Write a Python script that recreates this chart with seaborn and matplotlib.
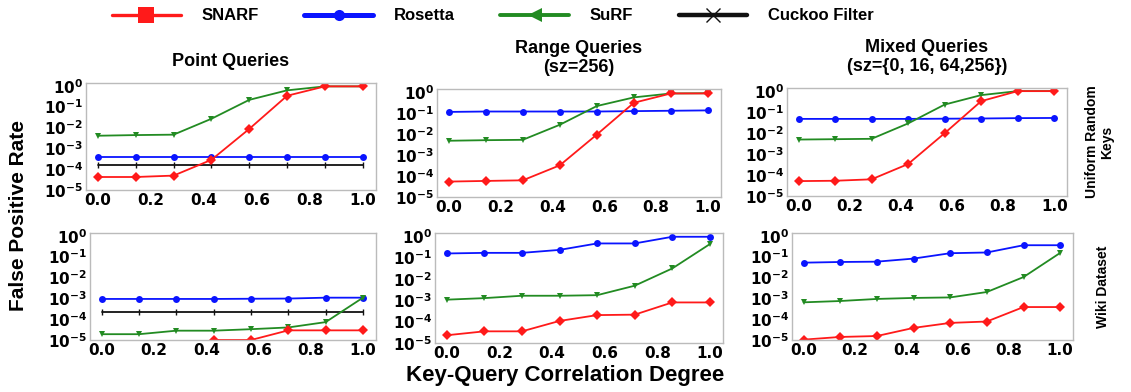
import numpy as np
import pandas as pd
import matplotlib
matplotlib.use("Agg")
import matplotlib.pyplot as plt
import seaborn as sns
from matplotlib.lines import Line2D
from matplotlib.ticker import FixedLocator, NullLocator

sns.set_theme(style="white")
plt.rcParams['font.family'] = ['DejaVu Sans']
plt.rcParams['text.color'] = 'black'
plt.rcParams['xtick.color'] = 'black'
plt.rcParams['ytick.color'] = 'black'

x_vals = [0.0, 1/7, 2/7, 3/7, 4/7, 5/7, 6/7, 1.0]

# Uniform random keys
pt_uni_snarf = [4.2e-5, 4.2e-5, 4.9e-5, 2.8e-4, 8.5e-3, 0.33, 0.93, 0.93]
pt_uni_rosetta = [4e-4] * 8
pt_uni_surf = [4e-3, 4.3e-3, 4.5e-3, 2.6e-2, 0.21, 0.6, 0.93, 0.93]
pt_uni_cuckoo = [1.65e-4] * 8

rg_uni_snarf = [5.4e-5, 5.8e-5, 6.2e-5, 3.2e-4, 9.3e-3, 0.30, 0.83, 0.83]
rg_uni_rosetta = [0.11, 0.115, 0.115, 0.115, 0.115, 0.12, 0.125, 0.13]
rg_uni_surf = [4.7e-3, 5.0e-3, 5.2e-3, 2.7e-2, 0.21, 0.54, 0.83, 0.85]

mx_uni_snarf = [5.1e-5, 5.3e-5, 6.2e-5, 3.3e-4, 9.6e-3, 0.32, 0.96, 0.96]
mx_uni_rosetta = [0.046, 0.046, 0.046, 0.046, 0.047, 0.048, 0.05, 0.051]
mx_uni_surf = [4.8e-3, 5.0e-3, 5.2e-3, 2.8e-2, 0.22, 0.62, 0.96, 0.96]

# Wiki dataset
pt_wiki_snarf = [1e-6, 1e-6, 1e-6, 1e-5, 1e-5, 2.9e-5, 2.9e-5, 2.9e-5]
pt_wiki_rosetta = [9.3e-4, 9.3e-4, 9.3e-4, 9.3e-4, 9.5e-4, 9.7e-4, 1.07e-3, 1.07e-3]
pt_wiki_surf = [1.9e-5, 1.9e-5, 2.8e-5, 2.8e-5, 3.3e-5, 4e-5, 7.2e-5, 1.07e-3]
pt_wiki_cuckoo = [2.1e-4] * 8

rg_wiki_snarf = [2.3e-5, 3.5e-5, 3.5e-5, 1.07e-4, 2.0e-4, 2.1e-4, 7.8e-4, 7.8e-4]
rg_wiki_rosetta = [0.15, 0.16, 0.16, 0.22, 0.44, 0.44, 0.9, 0.9]
rg_wiki_surf = [1.05e-3, 1.24e-3, 1.6e-3, 1.6e-3, 1.7e-3, 4.7e-3, 3.0e-2, 0.41]

mx_wiki_snarf = [1.04e-5, 1.4e-5, 1.55e-5, 3.8e-5, 6.6e-5, 7.7e-5, 3.8e-4, 3.8e-4]
mx_wiki_rosetta = [0.051, 0.055, 0.057, 0.08, 0.145, 0.157, 0.35, 0.35]
mx_wiki_surf = [6.4e-4, 7.4e-4, 9.3e-4, 1.04e-3, 1.1e-3, 2.0e-3, 1.04e-2, 0.15]

col_titles = ["Point Queries", "Range Queries\n(sz=256)", "Mixed Queries\n(sz={0, 16, 64,256})"]
row_labels = ["Uniform Random\nKeys", "Wiki Dataset"]
x_ticks = [0.0, 0.2, 0.4, 0.6, 0.8, 1.0]
y_ticks = [1e-5, 1e-4, 1e-3, 1e-2, 1e-1, 1e0]

RED = "#ff1a1a"
BLUE = "#0a14ff"
GREEN = "#228b22"
BLACK = "#111111"

panels = [
    [dict(SNARF=pt_uni_snarf, Rosetta=pt_uni_rosetta, SuRF=pt_uni_surf, Cuckoo=pt_uni_cuckoo),
     dict(SNARF=rg_uni_snarf, Rosetta=rg_uni_rosetta, SuRF=rg_uni_surf),
     dict(SNARF=mx_uni_snarf, Rosetta=mx_uni_rosetta, SuRF=mx_uni_surf)],
    [dict(SNARF=pt_wiki_snarf, Rosetta=pt_wiki_rosetta, SuRF=pt_wiki_surf, Cuckoo=pt_wiki_cuckoo),
     dict(SNARF=rg_wiki_snarf, Rosetta=rg_wiki_rosetta, SuRF=rg_wiki_surf),
     dict(SNARF=mx_wiki_snarf, Rosetta=mx_wiki_rosetta, SuRF=mx_wiki_surf)],
]

styles = {
    "Cuckoo": dict(color=BLACK, marker="|", markersize=5, mew=1.0),
    "Rosetta": dict(color=BLUE, marker="o", markersize=5, mew=0),
    "SuRF": dict(color=GREEN, marker="v", markersize=5, mew=0),
    "SNARF": dict(color=RED, marker="D", markersize=5.5, mew=0),
}
order = ["Cuckoo", "Rosetta", "SuRF", "SNARF"]

W, H = 1131, 392
fig = plt.figure(figsize=(W / 100, H / 100), dpi=100)

boxes = [
    [(86, 376, 83, 190), (437, 721, 89, 197), (787, 1067, 88, 196)],
    [(90, 376, 233, 340), (435, 723, 233, 343), (792, 1073, 233, 340)],
]

sans = ['Liberation Sans', 'DejaVu Sans']

for r in range(2):
    for c in range(3):
        l, rr, t, b = boxes[r][c]
        ax = fig.add_axes([l / W, 1 - b / H, (rr - l) / W, (b - t) / H])
        data = panels[r][c]
        for name in order:
            if name not in data:
                continue
            df = pd.DataFrame({"x": x_vals, "y": data[name]})
            st = styles[name]
            sns.lineplot(data=df, x="x", y="y", ax=ax, color=st["color"],
                         marker=st["marker"], markersize=st["markersize"],
                         markeredgewidth=st["mew"], markeredgecolor=st["color"],
                         linewidth=1.3, legend=False)
        ax.set_yscale("log")
        ax.set_ylim(1e-5, 1.35)
        ax.set_xlim(-0.045, 1.05)
        ax.yaxis.set_major_locator(FixedLocator(y_ticks))
        ax.yaxis.set_minor_locator(NullLocator())
        ax.set_xticks(x_ticks)
        ax.set_xticklabels([f"{v:.1f}" for v in x_ticks])
        ax.set_yticklabels([r"$\mathbf{10^{%d}}$" % int(np.log10(v)) for v in y_ticks])
        ax.tick_params(axis="both", length=0, pad=2, labelsize=11, colors="black")
        for lab in ax.get_xticklabels() + ax.get_yticklabels():
            lab.set_fontweight("bold")
        ax.set_xlabel("")
        ax.set_ylabel("")
        for sp in ax.spines.values():
            sp.set_color("#bbbbbb")
            sp.set_linewidth(1.0)
        if r == 0:
            ax.set_title(col_titles[c], fontsize=13, fontweight="bold",
                         family=sans, pad=12, linespacing=1.15, color="black")

fig.text(0.016, 0.45, "False Positive Rate", rotation=90, ha="center", va="center",
         fontsize=15, fontweight="bold", family=sans)
fig.text(0.5, 0.043, "Key-Query Correlation Degree", ha="center", va="center",
         fontsize=16, fontweight="bold", family=sans)
fig.text(1100 / W, 1 - 142 / H, row_labels[0], rotation=90, ha="center", va="center",
         fontsize=10, fontweight="bold", family=sans, linespacing=1.1)
fig.text(1103 / W, 1 - 287 / H, row_labels[1], rotation=90, ha="center", va="center",
         fontsize=10, fontweight="bold", family=sans)

handles = [
    Line2D([], [], color=RED, lw=2.4, marker="s", markersize=11, mew=0),
    Line2D([], [], color=BLUE, lw=3.6, marker="o", markersize=8, mew=0),
    Line2D([], [], color=GREEN, lw=2.8, marker="<", markersize=10, mew=0),
    Line2D([], [], color=BLACK, lw=3.2, marker="x", markersize=10, mew=1.0),
]
labels = ["SNARF", "Rosetta", "SuRF", "Cuckoo Filter"]
fig.legend(handles, labels, loc="center", bbox_to_anchor=(493 / W, 1 - 16 / H),
           ncol=4, frameon=False, handlelength=4.1, handletextpad=1.25,
           columnspacing=2.75, prop=dict(family=sans, weight="bold", size=12))

fig.savefig("out.png", dpi=100, facecolor="white")
